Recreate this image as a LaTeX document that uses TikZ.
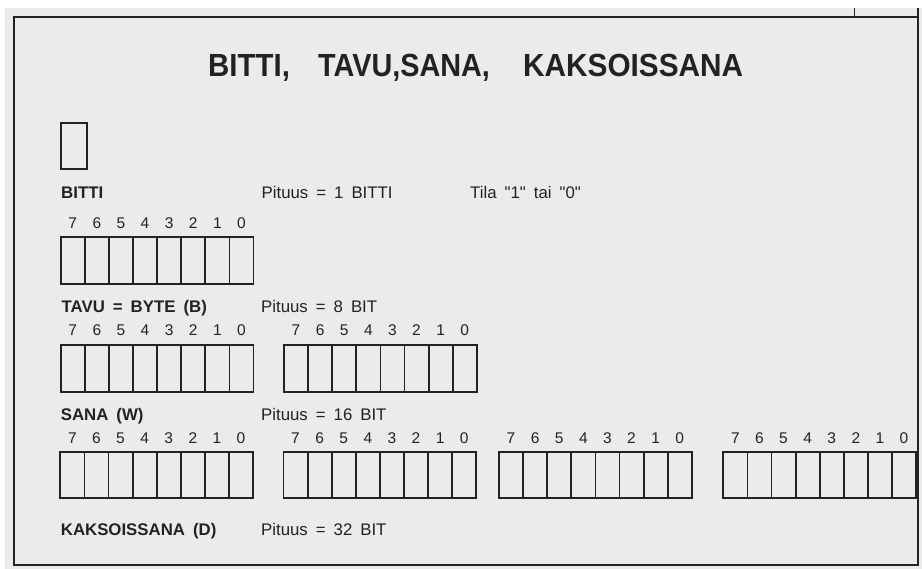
\documentclass[tikz,border=0pt]{standalone}
\usepackage{graphicx}
\usepackage{fontspec}
\setmainfont{Liberation Sans}[Ligatures=TeXOff]
\definecolor{bg}{HTML}{EBEBEB}
\definecolor{ink}{HTML}{222222}
\newcommand\widesp{\spaceskip 8pt\relax}
\newcommand\bitreg[4]{% #1 name, #2 left x, #3 box top y, #4 digit baseline y
  \foreach \i in {0,...,7}{%
    \pgfmathtruncatemacro\dd{7-\i}%
    \node[cellbox] (#1c\dd) at ({#2+\i*24.1},#3) {};
    \node[digit] (#1d\dd) at ({#2+(\i+0.5)*24.1},#4) {\dd};
  }%
}
\begin{document}
\begin{tikzpicture}[x=1pt,y=-1pt,
  frame/.style={draw=ink, line width=2pt},
  cellbox/.style={draw=ink, line width=1.8pt, anchor=north west, minimum width=24.1pt, minimum height=46.7pt, inner sep=0pt, outer sep=0pt},
  digit/.style={anchor=base, font=\fontsize{15.5}{15.5}\selectfont, text=ink, inner sep=0pt},
  lbl/.style={anchor=base west, font=\fontsize{16.8}{16.8}\selectfont\bfseries\widesp, text=ink, inner sep=0pt},
  txt/.style={anchor=base west, font=\fontsize{16.8}{16.8}\selectfont\widesp, text=ink, inner sep=0pt},
  ttl/.style={anchor=base west, font=\fontsize{32}{32}\selectfont\bfseries, text=ink, inner sep=0pt}]
\useasboundingbox (0,0) rectangle (922,569);
\fill[white] (0,0) rectangle (922,569);
\fill[bg] (5,8) rectangle (922,569);
% frame
\draw[frame] (14,17) rectangle (918,565);
\draw[ink, line width=1pt] (854,8) -- (854,17);
\draw[ink, line width=1.4pt] (918,8) -- (918,17);
% title
\node[ttl] (t1) at (208,76.5) {\scalebox{0.92}[1]{BITTI,}};
\node[ttl] (t2) at (318,76.5) {\scalebox{0.9}[1]{TAVU,SANA,}};
\node[ttl] (t3) at (523,76.5) {\scalebox{0.93}[1]{KAKSOISSANA}};
% single bit
\node[cellbox, minimum width=26pt] (bit) at (60.7,122.7) {};
\node[lbl] (lbit) at (61,198.5) {BITTI};
\node[txt] (pbit) at (261.5,198.5) {Pituus = 1 BITTI};
\node[txt] (tila) at (470,198.5) {Tila "1" tai "0"};
% byte
\bitreg{a}{60.7}{237.3}{229}
\node[lbl] (ltavu) at (61.5,313) {TAVU = BYTE (B)};
\node[txt] (ptavu) at (261,313) {Pituus = 8 BIT};
% word
\bitreg{b}{60.7}{345}{336}
\bitreg{c}{284}{345}{336}
\node[lbl] (lsana) at (60.7,421) {SANA (W)};
\node[txt] (psana) at (261,421) {Pituus = 16 BIT};
% double word
\bitreg{d}{60.3}{451.7}{443.3}
\bitreg{e}{283.5}{451.7}{443.3}
\bitreg{f}{499}{451.7}{443.3}
\bitreg{g}{723.3}{451.7}{443.3}
\node[lbl] (lkak) at (60.7,535) {KAKSOISSANA (D)};
\node[txt] (pkak) at (261,535) {Pituus = 32 BIT};
\end{tikzpicture}
\end{document}
